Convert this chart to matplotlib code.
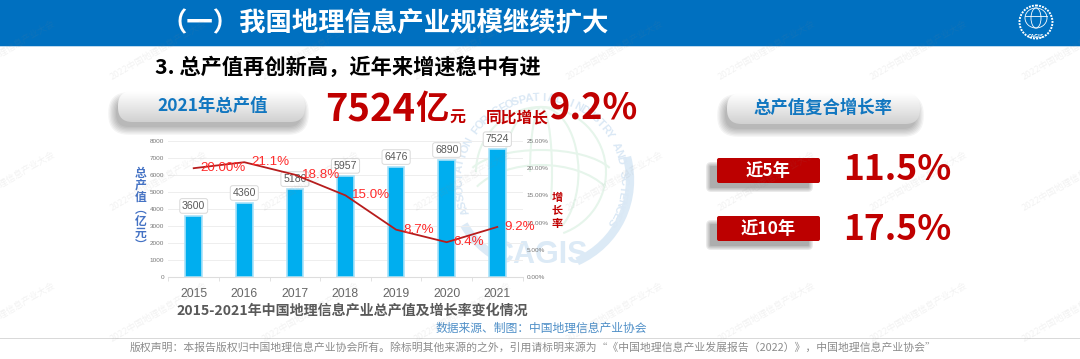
import numpy as np
import matplotlib
matplotlib.use('Agg')
import matplotlib.pyplot as plt
from matplotlib.patches import FancyBboxPatch, Rectangle, Circle, Arc

years = ['2015', '2016', '2017', '2018', '2019', '2020', '2021']
output_value = [3600, 4360, 5180, 5957, 6476, 6890, 7524]
growth_rate = [20.0, 21.1, 18.8, 15.0, 8.7, 6.4, 9.2]
growth_labels = ['20.00%', '21.1%', '18.8%', '15.0%', '8.7%', '6.4%', '9.2%']
left_ticks = [0, 1000, 2000, 3000, 4000, 5000, 6000, 7000, 8000]
right_ticks = [0, 5, 10, 15, 20, 25]

FONT = ['Noto Sans CJK SC', 'DejaVu Sans']
CHART_FONT = ['Liberation Sans', 'Noto Sans CJK SC']
plt.rcParams['font.family'] = FONT

W, H = 1080, 359
BLUE = '#0070C0'
RED = '#C00000'
GRAY = '#595959'

fig = plt.figure(figsize=(W / 100, H / 100), dpi=100, facecolor='white')

# pixel coordinate layers, one under the chart and one on top
bg = fig.add_axes([0, 0, 1, 1], zorder=0)
top = fig.add_axes([0, 0, 1, 1], zorder=5)
for a in (bg, top):
    a.set_xlim(0, W)
    a.set_ylim(H, 0)
    a.axis('off')
top.patch.set_alpha(0)


def shadow(ax, x, y, w, h, rad, alpha=0.03, steps=7, color='#000000'):
    for i in range(steps):
        g = i * 1.3
        ax.add_patch(FancyBboxPatch((x - g, y - g), w + 2 * g, h + 2 * g,
                                    boxstyle=f'round,pad=0,rounding_size={rad + g}',
                                    fc=color, ec='none', alpha=alpha, zorder=2))


def pill(ax, x, y, w, h):
    shadow(ax, x - 2, y + 9, w - 2, h - 4, h / 2 - 3, alpha=0.045)
    box = FancyBboxPatch((x, y), w, h, boxstyle=f'round,pad=0,rounding_size={h / 2 - 1}',
                         fc='none', ec='none', zorder=3)
    ax.add_patch(box)
    grad = np.linspace(1, 0, 64).reshape(-1, 1)
    im = ax.imshow(grad, extent=(x, x + w, y + h, y), cmap='gray', vmin=-4.5, vmax=1,
                   aspect='auto', zorder=3)
    im.set_clip_path(box)
    ax.set_xlim(0, W)
    ax.set_ylim(H, 0)


def red_tag(ax, x, y, w, h, label):
    shadow(ax, x - 7, y + 8, w - 4, h - 3, 1, alpha=0.09, steps=4)
    ax.add_patch(FancyBboxPatch((x, y), w, h, boxstyle='round,pad=0,rounding_size=2',
                                fc='#BC0000', ec='none', zorder=3))
    ax.text(x + w / 2, y + h / 2, label, color='white', fontsize=12.5, fontweight='bold',
            ha='center', va='center', zorder=4)


# header band
bg.add_patch(Rectangle((0, 0), W, 46, fc=BLUE, ec='none'))
bg.add_patch(Rectangle((0, 46), W, 1.2, fc='#BBD9EF', ec='none'))

# pale association logo behind the chart
cx, cy = 541, 180
LOGO_BLUE = '#DCEAF6'
bg.add_patch(Arc((cx, cy), 178, 178, theta1=-15, theta2=66, ec=LOGO_BLUE, lw=6))
bg.add_patch(Arc((cx, cy), 178, 178, theta1=116, theta2=150, ec=LOGO_BLUE, lw=6))
GREEN = '#E6F5EB'
for ew in (130, 75, 22):
    bg.add_patch(Arc((cx, cy - 8), ew, 130, theta1=180, theta2=360, ec=GREEN, lw=1.5))
    bg.add_patch(Arc((cx, cy - 8), ew, 130, theta1=0, theta2=70, ec=GREEN, lw=1.5))
bg.add_patch(Arc((cx, cy + 30), 150, 90, theta1=200, theta2=340, ec=GREEN, lw=1.5))
bg.add_patch(Arc((cx, cy), 150, 60, theta1=190, theta2=350, ec=GREEN, lw=1.5))
bg.text(540, 255, 'CAGIS', color=LOGO_BLUE, fontsize=22, fontweight='bold', ha='center', va='center',
        family=CHART_FONT)
ring_text = 'ASSOCIATION FOR GEOSPATIAL INDUSTRY AND SCIENCES'
for i, ch in enumerate(ring_text):
    ang = np.deg2rad(202 - i * 4.95)
    bg.text(cx + 82 * np.cos(ang), cy - 82 * np.sin(ang), ch, color='#DAE8F5', fontsize=8,
            fontweight='bold', ha='center', va='center', rotation=np.rad2deg(ang) - 90,
            family=CHART_FONT)

# corner logo
top.add_patch(Circle((1036, 22), 16.5, fc='none', ec='white', lw=1.4, ls=(0, (1, 0.6))))
for ew in (22, 10):
    top.add_patch(Arc((1036, 18), ew, 20, theta1=180, theta2=360, ec='white', lw=0.6))
    top.add_patch(Arc((1036, 18), ew, 20, theta1=0, theta2=180, ec='white', lw=0.6))
top.plot([1025, 1047], [16, 16], color='white', lw=0.6)
top.text(1036, 36, 'CAGIS', color='white', fontsize=4, fontweight='bold', ha='center', va='center')

# headings
top.text(160, 23, '（一）我国地理信息产业规模继续扩大', color='white', fontsize=19,
         fontweight='bold', va='center', ha='left')
top.text(155, 67, '3. 总产值再创新高，近年来增速稳中有进', color='black', fontsize=15.3,
         fontweight='bold', va='center', ha='left')

pill(top, 118, 91, 187, 31)
top.text(213, 106, '2021年总产值', color='#1277C0', fontsize=12.5, fontweight='bold',
         ha='center', va='center', zorder=4)
top.text(325, 110, '7524', color=RED, fontsize=27.5, fontweight='bold', va='center', ha='left')
top.text(415, 110, '亿', color=RED, fontsize=24, fontweight='bold', va='center', ha='left')
top.text(449, 118, '元', color=RED, fontsize=11.5, fontweight='bold', va='center', ha='left')
top.text(486, 117, '同比增长', color=RED, fontsize=11.3, fontweight='bold', va='center', ha='left')
top.text(549, 108, '9.2%', color=RED, fontsize=26, fontweight='bold', va='center', ha='left')

pill(top, 727, 93, 193, 31)
top.text(823, 108, '总产值复合增长率', color='#1277C0', fontsize=12.5, fontweight='bold',
         ha='center', va='center', zorder=4)
red_tag(top, 717, 158, 103, 25, '近5年')
red_tag(top, 717, 216, 103, 25, '近10年')
top.text(843, 169, '11.5%', color=RED, fontsize=25.5, fontweight='bold', va='center', ha='left')
top.text(843, 229, '17.5%', color=RED, fontsize=25.5, fontweight='bold', va='center', ha='left')

# chart
ax = fig.add_axes([168.4 / W, (H - 277) / H, 354.2 / W, 136 / H], zorder=1)
ax.patch.set_alpha(0)
x = np.arange(len(years))
ax.bar(x, output_value, width=0.33, color='#00AEEF', edgecolor='#A8E2F9', linewidth=1.2, zorder=2)
ax.set_xlim(-0.5, 6.5)
ax.set_ylim(0, 8000)
ax.set_yticks(left_ticks)
ax.set_xticks(x, years, family=CHART_FONT)
ax.tick_params(axis='y', labelsize=4.6, labelcolor='#777777', length=0, pad=3)
ax.tick_params(axis='x', labelsize=8.7, labelcolor='#666666', length=0, pad=8)
ax.set_xticks(np.arange(-0.5, 7), minor=True)
ax.tick_params(axis='x', which='minor', length=3, color='#dddddd')
ax.grid(axis='y', color='#EEEEEE', lw=0.7, zorder=0)
ax.set_axisbelow(True)
for s in ('top', 'left', 'right'):
    ax.spines[s].set_visible(False)
ax.spines['bottom'].set_color('#dddddd')
for t in ax.get_yticklabels():
    t.set_family(CHART_FONT)
for i, v in enumerate(output_value):
    ax.annotate(str(v), (i, v), xytext=(0, 3.5), textcoords='offset points', ha='center', va='bottom',
                fontsize=7.6, color=GRAY, zorder=6, annotation_clip=False, family=CHART_FONT,
                bbox=dict(boxstyle='round,pad=0.22', fc='white', ec='#D9D9D9', lw=0.7))

ax2 = ax.twinx()
ax2.set_zorder(ax.get_zorder() + 1)
ax2.patch.set_alpha(0)
ax2.plot(x, growth_rate, color='#B71C1C', lw=1.3, zorder=3)
ax2.set_ylim(0, 25)
ax2.set_yticks(right_ticks, [f'{t:.2f}%' for t in right_ticks], family=CHART_FONT)
ax2.tick_params(axis='y', labelsize=4.6, labelcolor='#777777', length=0, pad=3)
for s in ax2.spines.values():
    s.set_visible(False)
for i, v in enumerate(growth_rate):
    ax2.annotate(growth_labels[i], (i, v), xytext=(5, 0), textcoords='offset points', family=CHART_FONT,
                 ha='left', va='center', fontsize=9.6, color='#FF2A2A', zorder=6, annotation_clip=False)

# axis names stacked by hand like the slide
for i, ch in enumerate('总产值︵亿元︶'):
    top.text(141, 173 + i * 12, ch, color='#4472C4', fontsize=8.5, fontweight='bold', ha='center',
             va='center')
for i, ch in enumerate('增长率'):
    top.text(557, 197 + i * 13, ch, color=RED, fontsize=8, fontweight='bold', ha='center', va='center')

top.text(352, 311, '2015-2021年中国地理信息产业总产值及增长率变化情况', color=GRAY, fontsize=10.1,
         fontweight='bold', ha='center', va='center')
top.text(541, 328, '数据来源、制图：中国地理信息产业协会', color='#4F8FC7', fontsize=8.5, ha='center',
         va='center')
top.add_patch(Rectangle((0, 337.5), W, 1, fc='#D9D9D9', ec='none'))
top.text(533, 347, '版权声明：本报告版权归中国地理信息产业协会所有。除标明其他来源的之外，引用请标明来源为“《中国地理信息产业发展报告（2022）》，中国地理信息产业协会”',
         color='#8C8C8C', fontsize=7.8, ha='center', va='center')

# repeating watermark
for wy in (50, 181, 312):
    for wx in np.arange(7, 1080, 152):
        top.text(wx, wy, '2022中国地理信息产业大会', color='#888888', alpha=0.11, fontsize=6.5,
                 rotation=30, ha='center', va='center', zorder=8)

fig.savefig('out.png', dpi=100)
